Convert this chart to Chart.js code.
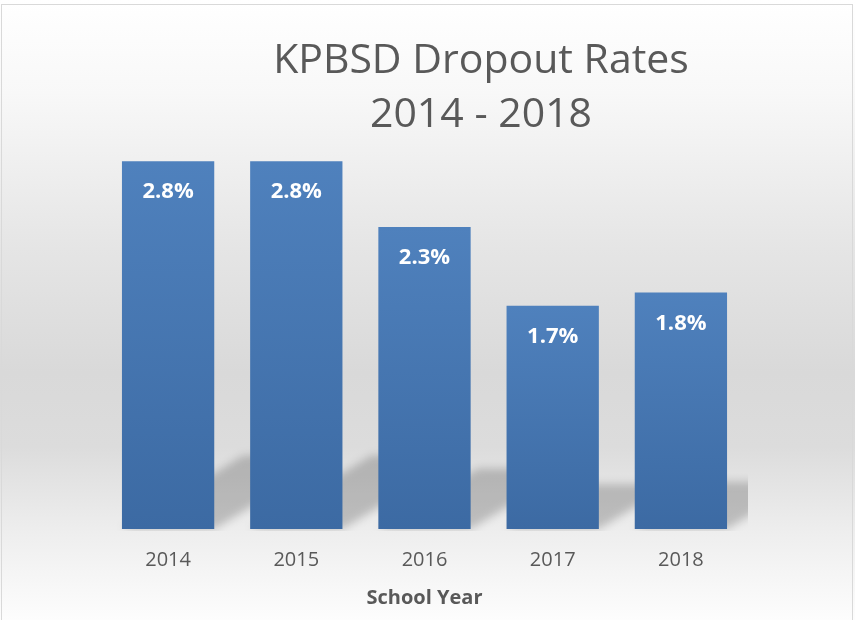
<!DOCTYPE html>
<html lang="en">
<head>
    <meta charset="UTF-8">
    <title>KPBSD Dropout Rates 2014 - 2018</title>
    <script src="https://cdn.jsdelivr.net/npm/chart.js"></script>
    <style>
        html, body {
            margin: 0;
            padding: 0;
            background: #ffffff;
        }
        .chart-wrap {
            position: relative;
            width: 855px;
            height: 620px;
        }
    </style>
</head>
<body>
    <div class="chart-wrap">
        <canvas id="dropoutChart" width="855" height="620"></canvas>
    </div>

    <script>
        // Data
        const schoolYears = ['2014', '2015', '2016', '2017', '2018'];
        const dropoutRates = [2.8, 2.8, 2.3, 1.7, 1.8];
        const titleLines = ['KPBSD Dropout Rates', '2014 - 2018'];

        const textGray = '#595959';

        // Background gradient + frame
        const backgroundPlugin = {
            id: 'background',
            beforeDraw(chart) {
                const ctx = chart.ctx;
                const h = chart.height;
                const g = ctx.createLinearGradient(0, 0, 0, h);
                g.addColorStop(0, '#ffffff');
                g.addColorStop(0.15, '#f8f8f8');
                g.addColorStop(0.4, '#e5e5e5');
                g.addColorStop(0.6, '#d9d9d9');
                g.addColorStop(0.72, '#dcdcdc');
                g.addColorStop(0.86, '#eeeeee');
                g.addColorStop(1, '#fdfdfd');
                ctx.save();
                ctx.fillStyle = g;
                ctx.fillRect(0, 0, chart.width, h);
                ctx.strokeStyle = '#d9d9d9';
                ctx.lineWidth = 1;
                ctx.strokeRect(1.5, 4.5, 851, h + 10);
                ctx.restore();
            }
        };

        // Perspective shadows behind the bars
        const shadowPlugin = {
            id: 'barShadows',
            beforeDatasetsDraw(chart) {
                const ctx = chart.ctx;
                const area = chart.chartArea;
                const bars = chart.getDatasetMeta(0).data;
                ctx.save();
                ctx.beginPath();
                ctx.rect(area.left, area.top, area.right + 3 - area.left, area.bottom + 2 - area.top);
                ctx.clip();
                ctx.filter = 'blur(4px)';
                ctx.beginPath();
                bars.forEach(bar => {
                    const left = bar.x - bar.width / 2;
                    const right = bar.x + bar.width / 2;
                    const base = bar.base;
                    const rise = (base - bar.y) * 0.2;
                    const shift = rise * 1.65;
                    ctx.moveTo(left, base);
                    ctx.lineTo(right, base);
                    ctx.lineTo(right + shift, base - rise);
                    ctx.lineTo(left + shift, base - rise);
                    ctx.closePath();
                });
                ctx.fillStyle = 'rgba(0, 0, 0, 0.2)';
                ctx.fill();
                ctx.restore();
            }
        };

        // Value labels inside the top of each bar
        const valueLabelPlugin = {
            id: 'valueLabels',
            afterDatasetsDraw(chart) {
                const ctx = chart.ctx;
                const bars = chart.getDatasetMeta(0).data;
                ctx.save();
                ctx.font = 'bold 22px "Open Sans"';
                ctx.fillStyle = '#ffffff';
                ctx.textAlign = 'center';
                ctx.textBaseline = 'alphabetic';
                bars.forEach((bar, i) => {
                    ctx.fillText(dropoutRates[i].toFixed(1) + '%', bar.x, bar.y + 37);
                });
                ctx.restore();
            }
        };

        // Two-line chart title, sits right of centre like the original
        const titlePlugin = {
            id: 'offsetTitle',
            afterDraw(chart) {
                const ctx = chart.ctx;
                ctx.save();
                ctx.font = '41px "Open Sans"';
                ctx.fillStyle = textGray;
                ctx.textAlign = 'center';
                ctx.textBaseline = 'alphabetic';
                ctx.fillText(titleLines[0], 481, 73);
                ctx.fillText(titleLines[1], 481, 127);
                ctx.restore();
            }
        };

        function barGradient(context) {
            const chart = context.chart;
            if (!chart.chartArea || context.type !== 'data') {
                return '#4675b0';
            }
            const yScale = chart.scales.y;
            const top = yScale.getPixelForValue(context.raw);
            const bottom = yScale.getPixelForValue(0);
            const g = chart.ctx.createLinearGradient(0, top, 0, bottom);
            g.addColorStop(0, '#4f81bd');
            g.addColorStop(1, '#3c6aa3');
            return g;
        }

        const ctx = document.getElementById('dropoutChart').getContext('2d');
        new Chart(ctx, {
            type: 'bar',
            data: {
                labels: schoolYears,
                datasets: [{
                    label: 'Dropout Rate',
                    data: dropoutRates,
                    backgroundColor: barGradient,
                    borderWidth: 0,
                    categoryPercentage: 1,
                    barPercentage: 0.72
                }]
            },
            options: {
                responsive: false,
                animation: false,
                layout: {
                    padding: { left: 104, right: 110, top: 135, bottom: 10 }
                },
                plugins: {
                    legend: { display: false },
                    title: { display: false },
                    tooltip: { enabled: false }
                },
                scales: {
                    y: {
                        display: false,
                        min: 0,
                        max: 3
                    },
                    x: {
                        grid: { display: false, drawTicks: false },
                        border: { display: false },
                        ticks: {
                            color: textGray,
                            font: { family: '"Open Sans"', size: 20 },
                            padding: 19
                        },
                        title: {
                            display: true,
                            text: 'School Year',
                            color: textGray,
                            font: { family: '"Open Sans"', size: 20, weight: 'bold' },
                            padding: { top: -5, bottom: 0 }
                        }
                    }
                }
            },
            plugins: [backgroundPlugin, shadowPlugin, valueLabelPlugin, titlePlugin]
        });
    </script>
</body>
</html>
